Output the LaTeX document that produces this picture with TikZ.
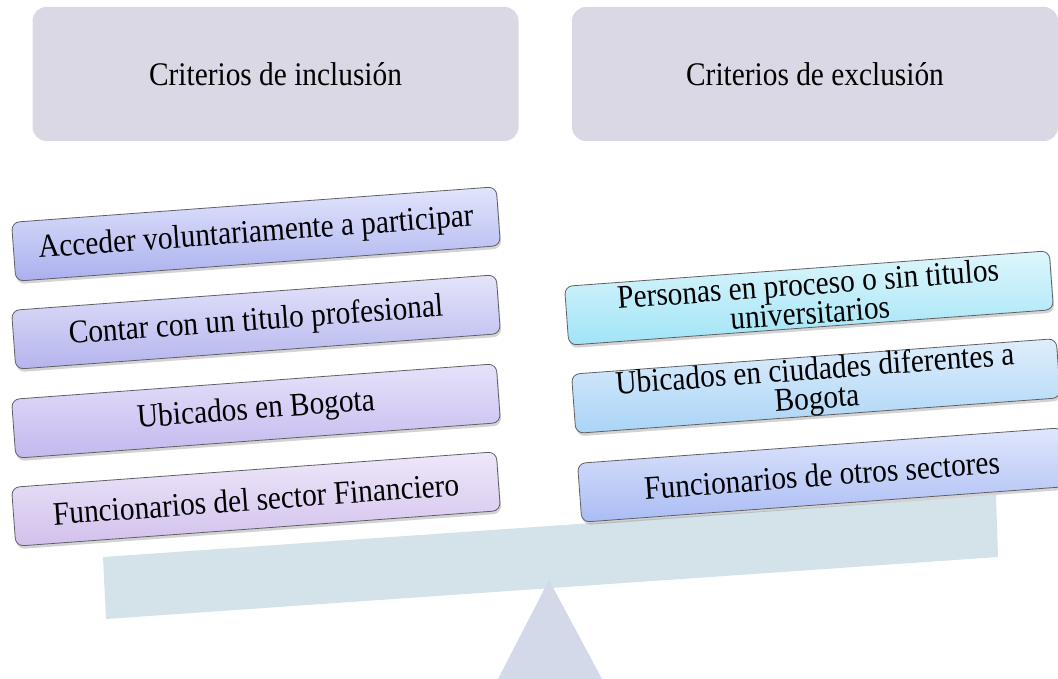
\documentclass[tikz,border=0pt]{standalone}
\usepackage{fontspec}
\setmainfont[FakeStretch=0.89]{Liberation Serif}
\usetikzlibrary{shadows}
\definecolor{hdrc}{RGB}{218,216,228}
\definecolor{boxline}{RGB}{95,95,100}
\definecolor{beamc}{RGB}{212,227,233}
\definecolor{tric}{RGB}{211,217,232}
\definecolor{lAt}{RGB}{226,229,252}\definecolor{lAb}{RGB}{170,176,238}
\definecolor{lBt}{RGB}{228,228,250}\definecolor{lBb}{RGB}{180,180,238}
\definecolor{lCt}{RGB}{230,226,250}\definecolor{lCb}{RGB}{196,184,238}
\definecolor{lDt}{RGB}{238,232,250}\definecolor{lDb}{RGB}{210,192,236}
\definecolor{rAt}{RGB}{222,246,252}\definecolor{rAb}{RGB}{160,228,246}
\definecolor{rBt}{RGB}{222,238,252}\definecolor{rBb}{RGB}{170,212,246}
\definecolor{rCt}{RGB}{224,230,252}\definecolor{rCb}{RGB}{170,188,244}
\begin{document}
\begin{tikzpicture}[x=1pt,y=-1pt,
  hdr/.style={fill=hdrc, rounded corners=14pt, minimum width=486pt, minimum height=134pt,
    font=\fontsize{33}{34}\selectfont, inner sep=0pt},
  item/.style={draw=boxline, line width=0.8pt, rounded corners=8pt, minimum width=486pt,
    minimum height=59pt, rotate=4.2, font=\fontsize{33}{29}\selectfont, align=center,
    inner sep=0pt, drop shadow={shadow xshift=1pt, shadow yshift=-3pt, opacity=0.35}},
  grad/.style 2 args={top color=#1, bottom color=#2}
]
\useasboundingbox (0,0) rectangle (1058,679);
% beam and fulcrum
\fill[beamc] (103,557) -- (996,495) -- (998,557) -- (106,619) -- cycle;
\fill[tric] (549,580) -- (602,679) -- (498,679) -- cycle;
% headers
\node[hdr] (hin) at (275.5,74) {Criterios de inclusión};
\node[hdr] (hex) at (815,74) {Criterios de exclusión};
% left items
\node[item, grad={lAt}{lAb}] (l1) at (256,234) {Acceder voluntariamente a participar};
\node[item, grad={lBt}{lBb}] (l2) at (256,322) {Contar con un titulo profesional};
\node[item, grad={lCt}{lCb}] (l3) at (256,411) {Ubicados en Bogota};
\node[item, grad={lDt}{lDb}] (l4) at (256,499) {Funcionarios del sector Financiero};
% right items
\node[item, grad={rAt}{rAb}] (r1) at (809,298) {Personas en proceso o sin titulos\\universitarios};
\node[item, grad={rBt}{rBb}] (r2) at (816,386) {Ubicados en ciudades diferentes a\\Bogota};
\node[item, grad={rCt}{rCb}] (r3) at (822,475) {Funcionarios de otros sectores};
\end{tikzpicture}
\end{document}
